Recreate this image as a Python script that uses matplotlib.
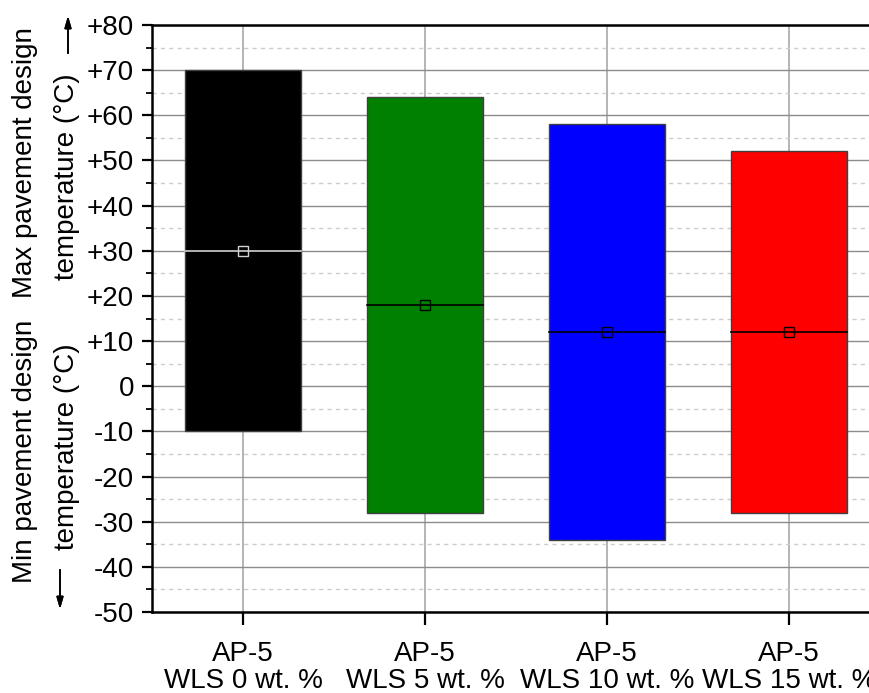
import matplotlib
matplotlib.use("Agg")
import matplotlib.pyplot as plt
from matplotlib.ticker import MultipleLocator, FixedLocator

plt.rcParams['font.family'] = ['Liberation Sans', 'DejaVu Sans']

groups = ["AP-5\nWLS 0 wt. %", "AP-5\nWLS 5 wt. %", "AP-5\nWLS 10 wt. %", "AP-5\nWLS 15 wt. %"]
max_temp = [70, 64, 58, 52]
min_temp = [-10, -28, -34, -28]
mid_temp = [30, 18, 12, 12]
colors = ["#000000", "#008000", "#0000ff", "#ff0000"]
mid_colors = ["#d0d0d0", "#000000", "#000000", "#000000"]
yticks = [-50, -40, -30, -20, -10, 0, 10, 20, 30, 40, 50, 60, 70, 80]

W, H = 870, 693
FS = 20
fig = plt.figure(figsize=(W / 100, H / 100), dpi=100)
ax = fig.add_axes([152 / W, 81 / H, 728 / W, 587 / H])

x = [1, 2, 3, 4]
bw = 0.64
ax.bar(x, [hi - lo for hi, lo in zip(max_temp, min_temp)], bottom=min_temp,
       width=bw, color=colors, edgecolor="#404040", linewidth=1, zorder=3)
for xi, m, c in zip(x, mid_temp, mid_colors):
    ax.plot([xi - bw / 2, xi + bw / 2], [m, m], color=c, lw=1.2, zorder=4)
    ax.plot(xi, m, marker="s", ms=7, mfc="none", mec=c, mew=1, zorder=5)

ax.set_xlim(0.5, 4.5)
ax.set_ylim(-50, 80)
ax.xaxis.set_major_locator(FixedLocator(x))
ax.set_xticklabels(groups, fontsize=FS, linespacing=1.03)
ax.yaxis.set_major_locator(FixedLocator(yticks))
ax.set_yticklabels([("+%d" % t if t > 0 else "%d" % t) for t in yticks], fontsize=FS)
ax.yaxis.set_minor_locator(MultipleLocator(5))

ax.grid(True, which="major", axis="y", color="#8c8c8c", lw=1, zorder=0)
ax.grid(True, which="major", axis="x", color="#a8a8a8", lw=1.2, zorder=0)
ax.grid(True, which="minor", axis="y", color="#cccccc", lw=1, ls=(0, (3, 3)), zorder=0)
ax.set_axisbelow(True)

for s in ["left", "bottom", "top"]:
    ax.spines[s].set_linewidth(1.8)
ax.spines["right"].set_visible(False)
ax.tick_params(axis="y", which="major", direction="out", length=7, width=1.6, pad=6)
ax.tick_params(axis="y", which="minor", direction="out", length=4, width=1.3)
ax.tick_params(axis="x", which="major", direction="out", length=9, width=1.6, pad=12)

# two-part y label with arrows pointing up (max) and down (min)
def px(xp, yp):
    return xp / W, 1 - yp / H

fig.text(*px(25, 451), "Min pavement design", rotation=90, ha="center", va="center", fontsize=FS)
fig.text(*px(25, 163), "Max pavement design", rotation=90, ha="center", va="center", fontsize=FS)
fig.text(*px(67, 447), "temperature (\u00b0C)", rotation=90, ha="center", va="center", fontsize=FS)
fig.text(*px(67, 177), "temperature (\u00b0C)", rotation=90, ha="center", va="center", fontsize=FS)
fig.add_artist(plt.annotate("", xy=px(60, 612), xytext=px(60, 567), xycoords="figure fraction",
                            arrowprops=dict(arrowstyle="-|>,head_length=0.7,head_width=0.2",
                                            color="black", lw=1.2)))
fig.add_artist(plt.annotate("", xy=px(68, 13), xytext=px(68, 56), xycoords="figure fraction",
                            arrowprops=dict(arrowstyle="-|>,head_length=0.7,head_width=0.2",
                                            color="black", lw=1.2)))

fig.savefig("out.png", dpi=100)
